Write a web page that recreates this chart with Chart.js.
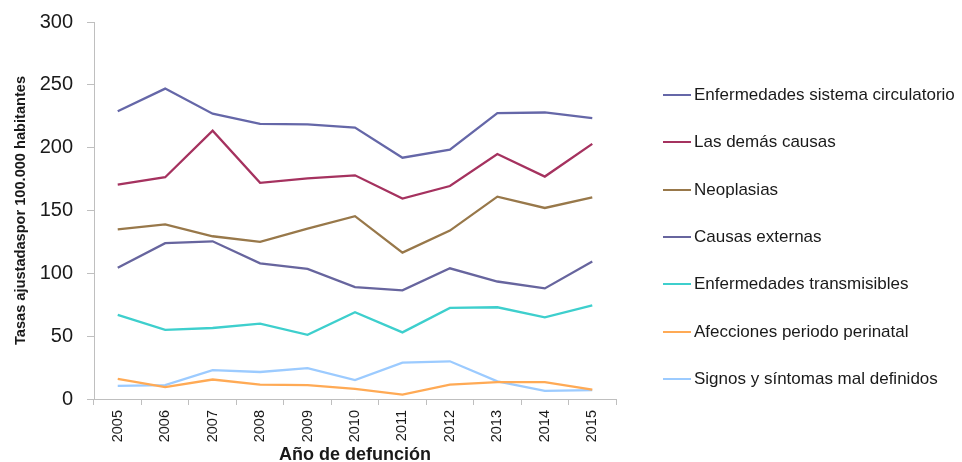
<!DOCTYPE html>
<html>
<head>
<meta charset="utf-8">
<script src="https://cdn.jsdelivr.net/npm/chart.js@4.4.1/dist/chart.umd.min.js"></script>
<style>
  html, body { margin: 0; padding: 0; background: #ffffff; }
  #wrap { position: relative; width: 962px; height: 462px; overflow: hidden; }
  #c { position: absolute; left: 0; top: 0; }
  #legend { position: absolute; left: 663px; top: 71.5px; font-family: "Liberation Sans", Arial, sans-serif; font-size: 17px; color: #1a1a1a; }
  .item { height: 47.33px; display: flex; align-items: center; white-space: nowrap; }
  .swatch { width: 28px; height: 2px; margin-right: 3px; flex: none; }
</style>
</head>
<body>
<div id="wrap">
  <canvas id="c" width="962" height="462"></canvas>
  <div id="legend"></div>
</div>
<script>
const years = ['2005', '2006', '2007', '2008', '2009', '2010', '2011', '2012', '2013', '2014', '2015'];
const seriesNames = [
  'Enfermedades sistema circulatorio',
  'Las demás causas',
  'Neoplasias',
  'Causas externas',
  'Enfermedades transmisibles',
  'Afecciones periodo perinatal',
  'Signos y síntomas mal definidos'
];
const circulatorio = [229, 247, 227, 219, 218.5, 216, 192, 198.5, 227.5, 228, 223.5];
const demasCausas = [170.5, 176.5, 213.5, 172, 175.5, 178, 159.5, 169.5, 195, 177, 203];
const neoplasias = [135, 139, 129.5, 125, 135.5, 145.5, 116.5, 134, 161, 152, 160.5];
const causasExternas = [104.5, 124, 125.5, 108, 103.5, 89, 86.5, 104, 93.5, 88, 109.5];
const transmisibles = [67, 55, 56.5, 60, 51, 69, 53, 72.5, 73, 65, 74.5];
const perinatal = [16, 9.5, 15.5, 11.5, 11, 8, 3.5, 11.5, 13.5, 13.5, 7.5];
const signos = [10.5, 11, 23, 21.5, 24.5, 15, 29, 30, 14, 6.5, 7];
const yTicks = [0, 50, 100, 150, 200, 250, 300];

const seriesValues = [circulatorio, demasCausas, neoplasias, causasExternas, transmisibles, perinatal, signos];
const seriesColors = ['#6567A8', '#A5325F', '#98784A', '#67659E', '#3ECFCD', '#FFAA55', '#9CCBFF'];

const axisColor = '#BFBFBF';

const datasets = seriesNames.map((name, i) => ({
  label: name,
  data: seriesValues[i],
  borderColor: seriesColors[i],
  backgroundColor: seriesColors[i],
  borderWidth: 2.3,
  pointRadius: 0,
  pointHoverRadius: 0,
  tension: 0,
  fill: false
}));

const chart = new Chart(document.getElementById('c'), {
  type: 'line',
  data: { labels: years, datasets: datasets },
  options: {
    responsive: false,
    animation: false,
    events: [],
    layout: { padding: { left: 0, top: 0, right: 346, bottom: 0 } },
    plugins: {
      legend: { display: false },
      tooltip: { enabled: false }
    },
    scales: {
      x: {
        offset: true,
        grid: { offset: true, drawOnChartArea: false, drawTicks: true, tickLength: 6, color: axisColor },
        border: { color: axisColor, width: 1 },
        ticks: {
          minRotation: 90, maxRotation: 90, autoSkip: false, padding: 5,
          color: '#1a1a1a',
          font: { family: '"Liberation Sans", Arial', size: 14.5 }
        },
        title: {
          display: true, text: 'Año de defunción', color: '#1a1a1a',
          padding: { top: 0, bottom: -2 },
          font: { family: '"Liberation Sans", Arial', size: 18, weight: 'bold', lineHeight: 1 }
        },
        afterFit: (s) => { s.height = 63; }
      },
      y: {
        min: 0, max: 300,
        afterBuildTicks: (s) => { s.ticks = yTicks.map(v => ({ value: v })); },
        grid: { drawOnChartArea: false, drawTicks: true, tickLength: 7, color: axisColor },
        border: { color: axisColor, width: 1 },
        ticks: {
          padding: 14, color: '#1a1a1a',
          font: { family: '"Liberation Sans", Arial', size: 20, lineHeight: 0.8 }
        },
        title: {
          display: true, text: 'Tasas ajustadaspor 100.000 habitantes', color: '#1a1a1a',
          padding: { top: 14, bottom: 0 },
          font: { family: '"Liberation Sans", Arial', size: 14.6, weight: 'bold', lineHeight: 1 }
        },
        afterFit: (s) => { s.width = 94; }
      }
    }
  }
});

const legend = document.getElementById('legend');
seriesNames.forEach((name, i) => {
  const row = document.createElement('div');
  row.className = 'item';
  const sw = document.createElement('span');
  sw.className = 'swatch';
  sw.style.background = seriesColors[i];
  const tx = document.createElement('span');
  tx.textContent = name;
  row.appendChild(sw);
  row.appendChild(tx);
  legend.appendChild(row);
});
</script>
</body>
</html>
